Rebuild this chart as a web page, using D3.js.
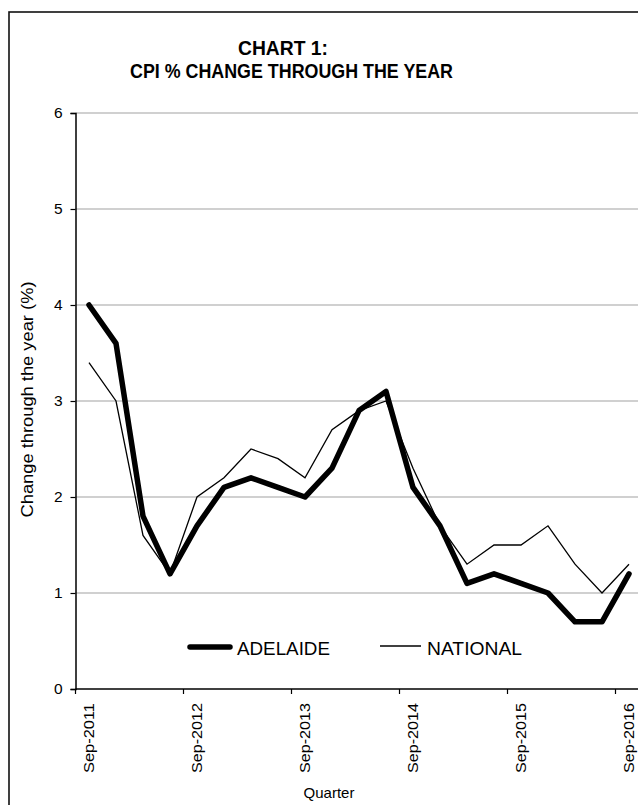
<!DOCTYPE html>
<html><head><meta charset="utf-8">
<script src="https://cdn.jsdelivr.net/npm/d3@7"></script>
<style>body{margin:0;background:#fff;}svg{display:block;font-family:"Liberation Sans",Arial,sans-serif;}</style>
</head><body>
<svg id="c" width="638" height="805"></svg>
<script>
const quarters = ["Sep-2011","Dec-2011","Mar-2012","Jun-2012","Sep-2012","Dec-2012","Mar-2013","Jun-2013","Sep-2013","Dec-2013","Mar-2014","Jun-2014","Sep-2014","Dec-2014","Mar-2015","Jun-2015","Sep-2015","Dec-2015","Mar-2016","Jun-2016","Sep-2016"];
const adelaide = [4.0,3.6,1.8,1.2,1.7,2.1,2.2,2.1,2.0,2.3,2.9,3.1,2.1,1.7,1.1,1.2,1.1,1.0,0.7,0.7,1.2];
const national = [3.4,3.0,1.6,1.2,2.0,2.2,2.5,2.4,2.2,2.7,2.9,3.0,2.3,1.7,1.3,1.5,1.5,1.7,1.3,1.0,1.3];
const yTicks = [0,1,2,3,4,5,6];
const xLabelIdx = [0,4,8,12,16,20];
const seriesNames = ["ADELAIDE","NATIONAL"];

const svg = d3.select("#c");
const pLeft = 75.5, step = 27, pTop = 113, pBottom = 689;
const x = d3.scaleBand().domain(quarters).range([pLeft, pLeft + step*quarters.length]).padding(0);
const y = d3.scaleLinear().domain([0,6]).range([pBottom, pTop]);

// outer border (cropped on right/bottom)
svg.append("rect").attr("x",9).attr("y",12).attr("width",700).attr("height",850)
  .attr("fill","none").attr("stroke","#111").attr("stroke-width",1.6);

// title
svg.append("text").attr("x",238).attr("y",55).attr("font-size",21).attr("font-weight","bold")
  .attr("textLength",90).attr("lengthAdjust","spacingAndGlyphs").text("CHART 1:");
svg.append("text").attr("x",130).attr("y",78).attr("font-size",21).attr("font-weight","bold")
  .attr("textLength",323).attr("lengthAdjust","spacingAndGlyphs").text("CPI % CHANGE THROUGH THE YEAR");

// gridlines
svg.append("g").selectAll("line").data(yTicks.filter(d=>d>0)).join("line")
  .attr("x1",pLeft).attr("x2",660).attr("y1",d=>y(d)).attr("y2",d=>y(d))
  .attr("stroke","#c0c0c0").attr("stroke-width",1.5);

// y axis
const ya = svg.append("g").attr("transform",`translate(${pLeft},0)`)
  .call(d3.axisLeft(y).tickValues(yTicks).tickSize(5).tickPadding(8).tickFormat(d3.format("d")));
ya.select(".domain").attr("stroke","#000").attr("stroke-width",1.5);
ya.selectAll(".tick line").attr("stroke","#000").attr("stroke-width",1.2);
ya.selectAll(".tick text").attr("font-size",15.5).attr("fill","#000").attr("font-family","Liberation Sans, Arial, sans-serif");

// x axis
svg.append("line").attr("x1",pLeft).attr("x2",660).attr("y1",pBottom).attr("y2",pBottom)
  .attr("stroke","#000").attr("stroke-width",1.5);
const tickBounds = d3.range(0, quarters.length+1, 4).map(i => pLeft + i*step);
svg.append("g").selectAll("line").data(tickBounds).join("line")
  .attr("x1",d=>d).attr("x2",d=>d).attr("y1",pBottom).attr("y2",pBottom+5)
  .attr("stroke","#000").attr("stroke-width",1.2);
svg.append("g").selectAll("text").data(xLabelIdx).join("text")
  .attr("transform",i=>`translate(${x(quarters[i])+x.bandwidth()/2+5},703) rotate(-90)`)
  .attr("text-anchor","end").attr("font-size",15).attr("textLength",70).attr("lengthAdjust","spacingAndGlyphs")
  .text(i=>quarters[i]);

// axis titles
svg.append("text").attr("transform","translate(33.4,399.5) rotate(-90)").attr("text-anchor","middle")
  .attr("font-size",16).attr("textLength",236).attr("lengthAdjust","spacingAndGlyphs")
  .text("Change through the year (%)");
svg.append("text").attr("x",329).attr("y",798).attr("text-anchor","middle").attr("font-size",15).text("Quarter");

// lines
const line = d3.line().x((d,i)=>x(quarters[i])+x.bandwidth()/2).y(d=>y(d));
svg.append("path").datum(national).attr("d",line).attr("fill","none").attr("stroke","#000").attr("stroke-width",1.3).attr("stroke-linejoin","miter");
svg.append("path").datum(adelaide).attr("d",line).attr("fill","none").attr("stroke","#000").attr("stroke-width",5.5).attr("stroke-linejoin","round").attr("stroke-linecap","round");

// legend
const lg = svg.append("g");
lg.append("line").attr("x1",190).attr("x2",230).attr("y1",647).attr("y2",647).attr("stroke","#000").attr("stroke-width",5.5).attr("stroke-linecap","round");
lg.append("text").attr("x",237).attr("y",655).attr("font-size",18).attr("textLength",93).attr("lengthAdjust","spacingAndGlyphs").text(seriesNames[0]);
lg.append("line").attr("x1",380).attr("x2",421).attr("y1",646).attr("y2",646).attr("stroke","#000").attr("stroke-width",1.3);
lg.append("text").attr("x",427).attr("y",655).attr("font-size",18).attr("textLength",95).attr("lengthAdjust","spacingAndGlyphs").text(seriesNames[1]);
</script>
</body></html>
